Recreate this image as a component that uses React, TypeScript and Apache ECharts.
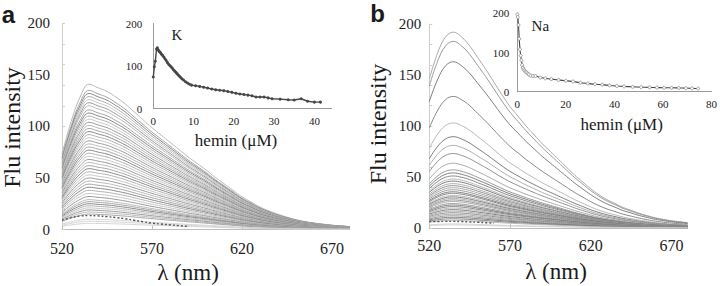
import React, { useEffect, useRef } from "react";
import * as echarts from "echarts";

// ---------- data ----------
const wavelengths = [520, 525, 530, 535, 540, 545, 550, 555, 560, 565, 570, 575, 580, 585, 590, 595, 600, 605, 610, 615, 620, 625, 630, 635, 640, 645, 650, 655, 660, 665, 670, 675, 680];

const shapeA = [0.52, 0.74, 0.91, 1.0, 0.975, 0.95, 0.91, 0.865, 0.81, 0.755, 0.7, 0.65, 0.6, 0.55, 0.5, 0.455, 0.41, 0.36, 0.315, 0.27, 0.225, 0.19, 0.155, 0.128, 0.105, 0.085, 0.068, 0.055, 0.045, 0.037, 0.03, 0.025, 0.02];
const shapeB = [0.76, 0.89, 0.975, 1.0, 0.975, 0.93, 0.87, 0.81, 0.745, 0.68, 0.62, 0.57, 0.52, 0.475, 0.43, 0.39, 0.35, 0.31, 0.27, 0.235, 0.2, 0.17, 0.145, 0.125, 0.105, 0.09, 0.075, 0.063, 0.052, 0.044, 0.037, 0.032, 0.027];

// peak intensity of every spectrum
const peaksA = [141, 135, 132, 129, 126, 123, 120, 116, 113, 110, 107, 104, 101, 98, 95, 92, 89, 86, 83, 80, 77, 74, 71, 68, 65, 62, 59, 56, 53, 50, 47, 44, 41, 38, 35, 32, 29, 27, 25, 23, 21, 19, 17, 15, 10, 8, 6];
const peaksB = [192, 183, 163, 129, 103, 89.5, 81, 73, 63.5, 57, 54, 51, 48, 46, 43.5, 41.5, 39.5, 37.5, 35.5, 34, 32, 30.5, 29, 27.5, 26, 24, 22.5, 21, 19.5, 18, 16.5, 15, 13.5, 12, 10.5, 9, 7.5, 4, 3];

// dotted (reference) spectra
const dottedWlA = [520, 525, 530, 535, 540, 545, 550, 555, 560, 565, 570, 575, 580, 585, 590];
const dottedA = [9, 11.5, 13, 13.5, 13.2, 12.5, 11.5, 10.5, 9, 7.5, 6.2, 5.3, 4.5, 3.7, 3.0];
const dottedWlB = [520, 525, 530, 535, 540, 545, 550, 555, 560];
const dottedB = [6.3, 6.4, 6.5, 6.5, 6.3, 6.0, 5.6, 5.2, 4.8];

// insets
const kHemin = [0, 0.25, 0.5, 0.8, 1.0, 1.2, 1.4, 1.6, 1.8, 2.0, 2.3, 2.6, 2.9, 3.2, 3.5, 3.8, 4.1, 4.4, 4.7, 5.0, 5.3, 5.6, 5.9, 6.2, 6.5, 6.8, 7.1, 7.5, 8.0, 8.5, 9.0, 9.5, 10.5, 11.5, 12.5, 13.5, 14.5, 15.5, 16.5, 17.5, 18.5, 19.5, 20.5, 21.5, 22.5, 23.5, 24.5, 25.5, 26.5, 27.5, 28.5, 29.5, 31.5, 33.5, 35, 36.7, 38.3, 40, 41.5];
const kFlu = [74, 98, 111, 140, 143, 138, 135, 133, 131, 128, 125, 121, 117, 113, 108, 104, 101, 98, 95, 91, 88, 85, 82, 79, 76, 73, 70, 67, 63, 60, 57, 55, 53.5, 52, 50, 48, 46, 44, 43, 42, 40, 38, 36, 34, 33, 31.5, 30, 27, 27, 27, 25, 23, 22, 20.5, 20, 23, 17, 15, 15];
const naHemin = [0, 0.2, 0.5, 0.8, 1.1, 1.4, 1.7, 2.0, 2.3, 2.6, 3.0, 3.4, 3.8, 4.3, 4.8, 5.5, 6.5, 7.5, 9.5, 11.5, 14, 17, 20, 23, 26, 29, 32, 35, 38, 41, 44, 47.5, 51, 54.5, 57.5, 60.5, 63.5, 66.5, 69.5, 72, 74.5];
const naFlu = [197, 190, 170, 135, 108, 92, 80, 68, 61, 57, 54, 51, 49, 46, 44, 41, 40, 40, 36, 34, 32, 30, 28, 26, 23, 21, 19, 18, 16, 14.5, 13.5, 12.5, 11.5, 11, 10.5, 10, 10, 9.5, 9, 8.5, 8];

// ---------- styles ----------
const SERIF = "Liberation Serif, Times New Roman, Times, serif";
const SANS = "Liberation Sans, Arial, sans-serif";
const tonesA = ["#b2b2b2", "#9c9c9c", "#7c7c7c", "#a9a9a9", "#c2c2c2", "#8e8e8e"];
const tonesB = ["#a0a0a0", "#8e8e8e", "#707070", "#7a7a7a", "#b0b0b0", "#6e6e6e", "#a5a5a5", "#858585"];

function spectra(peaks: number[], shape: number[], axis: number, tones: string[], lightFrom: number) {
  return peaks.map((p, i) => ({
    type: "line",
    xAxisIndex: axis,
    yAxisIndex: axis,
    data: wavelengths.map((w, j) => [w, +(p * shape[j]).toFixed(2)]),
    smooth: 0.4,
    symbol: "none",
    silent: true,
    lineStyle: { width: 0.9, color: i >= lightFrom ? "#d0d0d0" : tones[i % tones.length] },
    z: 2,
  }));
}

function mainX(grid: number, margin: number) {
  return {
    gridIndex: grid,
    type: "value",
    min: 520,
    max: 680,
    interval: 50,
    axisLine: { show: true, lineStyle: { color: "#bdbdbd", width: 1 } },
    axisTick: { show: true, inside: true, length: 4, lineStyle: { color: "#bdbdbd" } },
    axisLabel: { fontFamily: SERIF, fontSize: 16, color: "#222", margin, showMaxLabel: false },
    splitLine: { show: false },
  };
}
function mainY(grid: number, margin: number) {
  return {
    gridIndex: grid,
    type: "value",
    min: 0,
    max: 200,
    interval: 50,
    axisLine: { show: true, lineStyle: { color: "#cfcfcf", width: 1 } },
    axisTick: { show: false },
    axisLabel: { fontFamily: SERIF, fontSize: 15, color: "#222", margin },
    splitLine: { show: false },
  };
}
function minorY(grid: number) {
  return {
    gridIndex: grid,
    type: "value",
    min: 0,
    max: 200,
    interval: 20,
    position: "left",
    axisLine: { show: false },
    axisTick: { show: true, inside: true, length: 3, lineStyle: { color: "#cfcfcf" } },
    axisLabel: { show: false },
    splitLine: { show: false },
  };
}
function insetX(grid: number, max: number, interval: number) {
  return {
    gridIndex: grid,
    type: "value",
    min: 0,
    max,
    interval,
    axisLine: { show: true, lineStyle: { color: "#9a9a9a", width: 1 } },
    axisTick: { show: false },
    axisLabel: {
      fontFamily: SERIF,
      fontSize: 11,
      color: "#222",
      margin: 7,
      formatter: (v: number) => (v % interval === 0 ? String(v) : ""),
    },
    splitLine: { show: false },
  };
}
function insetY(grid: number, margin: number) {
  return {
    gridIndex: grid,
    type: "value",
    min: 0,
    max: 200,
    interval: 100,
    axisLine: { show: true, lineStyle: { color: "#9a9a9a", width: 1 } },
    axisTick: { show: false },
    axisLabel: { fontFamily: SERIF, fontSize: 11, color: "#222", margin },
    splitLine: { show: false },
  };
}

function txt(text: string, x: number, y: number, size: number, opts: any = {}) {
  const family = opts.family || SERIF;
  const weight = opts.weight || "normal";
  return {
    type: "text",
    x,
    y,
    rotation: opts.rotation || 0,
    z: 100,
    style: {
      text,
      fontFamily: family,
      fontSize: size,
      fontWeight: weight,
      fill: "#1a1a1a",
      align: "center",
      verticalAlign: "middle",
      textAlign: "center",
      textVerticalAlign: "middle",
    },
  };
}

export default function App() {
  const ref = useRef<HTMLDivElement>(null);
  useEffect(() => {
    if (!ref.current) return;
    const chart = echarts.init(ref.current, null, { renderer: "svg" });
    const option: any = {
      animation: false,
      backgroundColor: "#ffffff",
      textStyle: { fontFamily: SERIF },
      grid: [
        { left: 62, top: 23.3, width: 288, height: 206.2 },
        { left: 429.3, top: 24, width: 258.4, height: 204 },
        { left: 153.3, top: 23.5, width: 178.4, height: 85 },
        { left: 517.3, top: 13.3, width: 197.7, height: 78.4 },
      ],
      xAxis: [mainX(0, 11), mainX(1, 9), insetX(2, 44.3, 10), insetX(3, 80, 20)],
      yAxis: [mainY(0, 12), mainY(1, 8), insetY(2, 11), insetY(3, 8), minorY(0), minorY(1)],
      series: [
        ...spectra(peaksA, shapeA, 0, tonesA, 44),
        {
          type: "line",
          xAxisIndex: 0,
          yAxisIndex: 0,
          data: dottedWlA.map((w, i) => [w, dottedA[i]]),
          smooth: 0.4,
          symbol: "none",
          silent: true,
          lineStyle: { width: 1.4, color: "#555", type: [2, 2] },
          z: 3,
        },
        ...spectra(peaksB, shapeB, 1, tonesB, 37),
        {
          type: "line",
          xAxisIndex: 1,
          yAxisIndex: 1,
          data: dottedWlB.map((w, i) => [w, dottedB[i]]),
          smooth: 0.4,
          symbol: "none",
          silent: true,
          lineStyle: { width: 1.4, color: "#555", type: [2, 2] },
          z: 3,
        },
        {
          type: "line",
          xAxisIndex: 2,
          yAxisIndex: 2,
          data: kHemin.map((h, i) => [h, kFlu[i]]),
          symbol: "circle",
          symbolSize: 3,
          showSymbol: true,
          silent: true,
          lineStyle: { width: 1.4, color: "#474747" },
          itemStyle: { color: "#474747" },
          z: 5,
        },
        {
          type: "line",
          xAxisIndex: 3,
          yAxisIndex: 3,
          data: naHemin.map((h, i) => [h, naFlu[i]]),
          symbol: "circle",
          symbolSize: 3,
          showSymbol: true,
          smooth: 0.2,
          silent: true,
          lineStyle: { width: 1.1, color: "#444" },
          itemStyle: { color: "#ffffff", borderColor: "#8a8a8a", borderWidth: 0.8 },
          z: 5,
        },
      ],
      graphic: [
        txt("a", 8.5, 14, 24, { family: SANS, weight: "bold" }),
        txt("b", 377.5, 13, 24, { family: SANS, weight: "bold" }),
        txt("Flu intensity", 11.5, 127.5, 24, { rotation: Math.PI / 2 }),
        txt("Flu intensity", 378, 124, 24, { rotation: Math.PI / 2 }),
        txt("λ (nm)", 188, 272.5, 23),
        txt("λ (nm)", 556, 271.5, 23),
        txt("K", 177, 35, 15),
        txt("Na", 540.3, 26, 15),
        txt("hemin (μM)", 236, 140, 17),
        txt("hemin (μM)", 621.7, 124, 17),
      ],
    };
    chart.setOption(option);
    return () => chart.dispose();
  }, []);
  return (
    <div
      ref={ref}
      style={{ position: "absolute", left: 0, top: 0, width: 720, height: 286, background: "#fff" }}
    />
  );
}
